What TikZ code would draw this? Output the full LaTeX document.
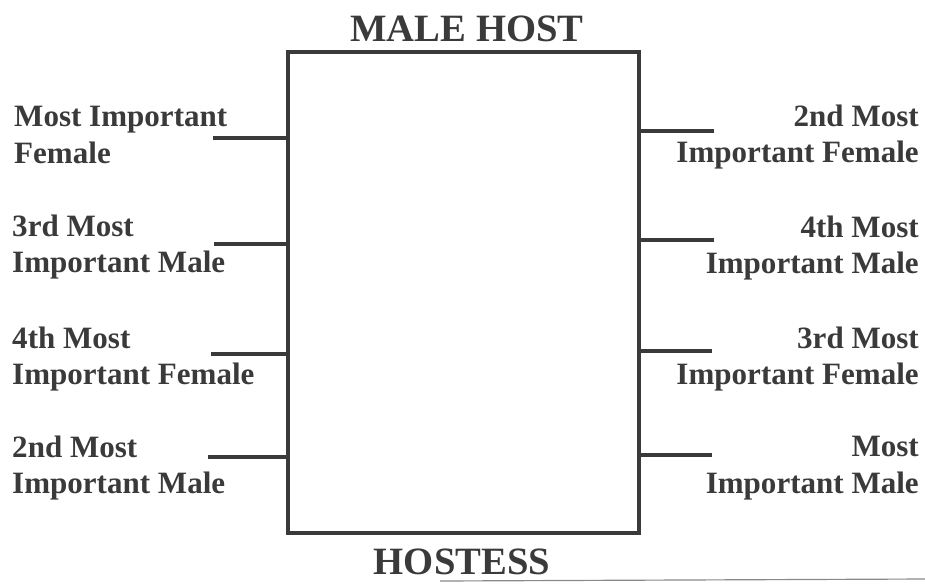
\documentclass[tikz,border=0pt]{standalone}
\usepackage{fontspec}
\setmainfont{Liberation Serif}
\definecolor{ink}{HTML}{3A3A3A}
\tikzset{
  seat/.style={font=\bfseries\fontsize{26.5}{31}\selectfont, text=ink, inner sep=0pt},
  head/.style={font=\bfseries\fontsize{33}{38}\selectfont, text=ink, inner sep=0pt},
  stub/.style={draw=ink, line width=3.2pt}
}
\begin{document}
\begin{tikzpicture}[x=0.03cm, y=-0.03cm]
\useasboundingbox (0,0) rectangle (925,583);

\node[head] (host) at (467,29) {MALE HOST};
\node[head] (hostess) at (462,562) {HOSTESS};

\node[draw=ink, line width=3.2pt, minimum width=10.53cm, minimum height=14.43cm, inner sep=0pt] (table) at (463.5,292.5) {};

% left side
\node[seat, anchor=west, align=left] (l1) at (14,135) {Most Important\\Female};
\node[seat, anchor=west, align=left] (l2) at (12,247) {3rd Most\\Important Male};
\node[seat, anchor=west, align=left] (l3) at (12,359) {4th Most\\Important Female};
\node[seat, anchor=west, align=left] (l4) at (12,468) {2nd Most\\Important Male};

\coordinate (a1) at (213,138);
\coordinate (a2) at (214,244);
\coordinate (a3) at (211,354);
\coordinate (a4) at (208,457);

% right side
\node[seat, anchor=east, align=right] (r1) at (919,137) {2nd Most\\Important Female};
\node[seat, anchor=east, align=right] (r2) at (919,248) {4th Most\\Important Male};
\node[seat, anchor=east, align=right] (r3) at (919,359) {3rd Most\\Important Female};
\node[seat, anchor=east, align=right] (r4) at (919,468) {Most\\Important Male};

\coordinate (b1) at (714,131);
\coordinate (b2) at (714,240);
\coordinate (b3) at (712,351);
\coordinate (b4) at (712,455);

\foreach \i in {1,...,4} {
  \draw[stub] (a\i) -- (a\i -| table.west);
  \draw[stub] (b\i) -- (b\i -| table.east);
}

\coordinate (e1) at (440,581);
\coordinate (e2) at (925,579);
\draw[ink!60, line width=1pt] (e1) -- (e2);
\end{tikzpicture}
\end{document}
